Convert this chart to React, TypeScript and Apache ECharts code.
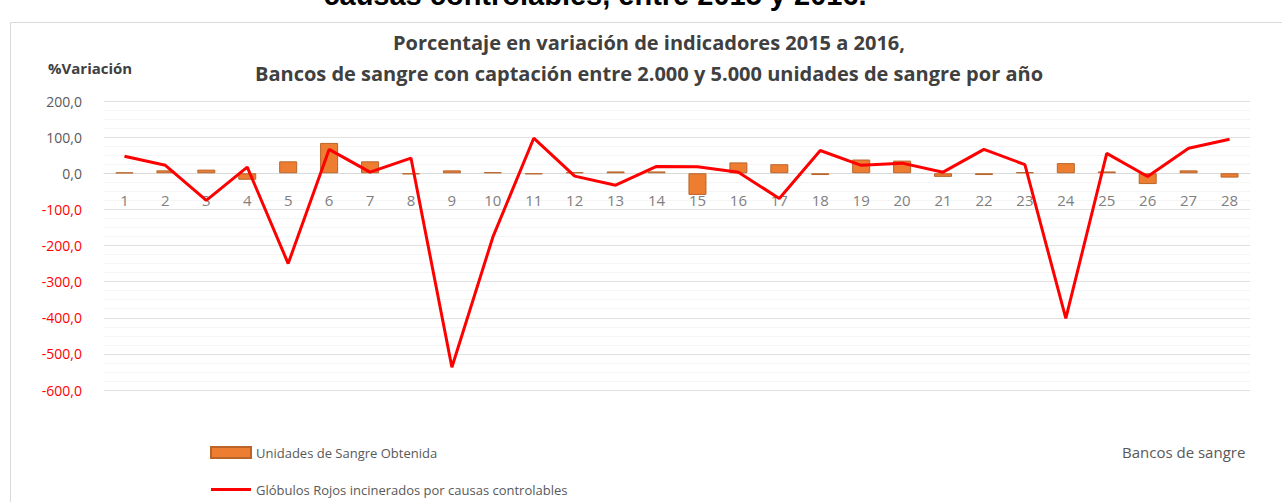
import React, { useEffect, useRef } from "react";
import * as echarts from "echarts";

const categories = ["1","2","3","4","5","6","7","8","9","10","11","12","13","14","15","16","17","18","19","20","21","22","23","24","25","26","27","28"];
const unidadesSangre = [2, 8, 10, -18, 33, 84, 33, -3, 8, 3, -3, 3, 5, 5, -60, 30, 25, -5, 38, 35, -10, -5, 3, 28, 5, -30, 8, -12];
const globulosRojos = [47, 22, -75, 17, -250, 66, 3, 42, -537, -177, 97, -8, -33, 19, 18, 3, -70, 63, 22, 28, 3, 66, 24, -402, 55, -9, 69, 94];
const seriesNames = ["Unidades de Sangre Obtenida", "Glóbulos Rojos incinerados por causas controlables"];
const titleLines = ["Porcentaje en variación de indicadores 2015 a 2016,", "Bancos de sangre con captación entre 2.000 y 5.000 unidades de sangre por año"];
const topCutText = "causas controlables, entre 2015 y 2016.";
const yAxisName = "%Variación";
const xAxisName = "Bancos de sangre";
const yMin = -600;
const yMax = 200;

const FONT = "'Open Sans', 'Noto Sans', sans-serif";

const GRID_TOP = 101;
const GRID_BOTTOM = 112;
const H = 502;

export default function App() {
  const ref = useRef<HTMLDivElement>(null);
  useEffect(() => {
    if (!ref.current) return;
    const chart = echarts.init(ref.current, null, { renderer: "svg" });
    const gridH = H - GRID_TOP - GRID_BOTTOM;
    const zeroOffset = -gridH * (0 - yMin) / (yMax - yMin);
    chart.setOption({
      animation: false,
      backgroundColor: "#ffffff",
      textStyle: { fontFamily: FONT },
      graphic: [
        {
          type: "rect",
          shape: { x: 10.5, y: 22.5, width: 1290, height: 500 },
          style: { fill: "none", stroke: "#d9d9d9", lineWidth: 1 },
          silent: true,
        },
        {
          type: "text",
          x: 595,
          y: 9,
          style: {
            text: topCutText,
            fill: "#000000",
            font: "bold 29px 'Liberation Sans', Arial, sans-serif",
            textAlign: "center",
            textVerticalAlign: "bottom",
          },
        },
        {
          type: "text",
          x: 649,
          y: 42,
          style: {
            text: titleLines[0],
            fill: "#404040",
            font: `bold 20px ${FONT}`,
            textAlign: "center",
            textVerticalAlign: "middle",
          },
        },
        {
          type: "text",
          x: 649,
          y: 73,
          style: {
            text: titleLines[1],
            fill: "#404040",
            font: `bold 20px ${FONT}`,
            textAlign: "center",
            textVerticalAlign: "middle",
          },
        },
        {
          type: "text",
          x: 48,
          y: 68,
          style: {
            text: yAxisName,
            fill: "#404040",
            font: `bold 15px ${FONT}`,
            textAlign: "left",
            textVerticalAlign: "middle",
          },
        },
        {
          type: "text",
          x: 1122,
          y: 452,
          style: {
            text: xAxisName,
            fill: "#595959",
            font: `15px ${FONT}`,
            textAlign: "left",
            textVerticalAlign: "middle",
          },
        },
      ],
      legend: {
        orient: "vertical",
        left: 205,
        top: 441,
        height: 60,
        padding: 5,
        itemWidth: 40,
        itemHeight: 11,
        itemGap: 24,
        textStyle: { color: "#595959", fontSize: 13, fontFamily: FONT },
        data: [
          { name: seriesNames[0], icon: "rect" },
          { name: seriesNames[1], icon: "path://M0,0 h40 v3 h-40 z" },
        ],
      },
      grid: { left: 104, right: 32, top: GRID_TOP, bottom: GRID_BOTTOM, containLabel: false },
      xAxis: {
        type: "category",
        data: categories,
        boundaryGap: true,
        offset: zeroOffset,
        axisLine: { onZero: false, lineStyle: { color: "#d9d9d9" } },
        axisTick: { show: false },
        axisLabel: { color: "#808080", fontSize: 15, margin: 19, fontFamily: FONT },
        splitLine: { show: false },
      },
      yAxis: {
        type: "value",
        min: yMin,
        max: yMax,
        interval: 100,
        axisLine: { show: false },
        axisTick: { show: false },
        axisLabel: {
          fontSize: 14,
          margin: 22,
          fontFamily: FONT,
          formatter: (v: number) => v.toFixed(1).replace(".", ","),
          color: (v: any) => (Number(v) < 0 ? "#ff0000" : "#595959"),
        },
        splitLine: { lineStyle: { color: "#e0e0e0", width: 1 } },
        minorTick: { show: false, splitNumber: 4 },
        minorSplitLine: { show: true, lineStyle: { color: "#f5f5f5", width: 1 } },
      },
      series: [
        {
          name: seriesNames[0],
          type: "bar",
          data: unidadesSangre,
          barWidth: 18,
          itemStyle: { color: "#ed7d31", borderColor: "#b9652a", borderWidth: 1 },
        },
        {
          name: seriesNames[1],
          type: "line",
          data: globulosRojos,
          symbol: "none",
          lineStyle: { color: "#ff0000", width: 3 },
          itemStyle: { color: "#ff0000" },
        },
      ],
    });
    return () => chart.dispose();
  }, []);
  return (
    <div
      ref={ref}
      style={{ position: "fixed", left: 0, top: 0, width: 1282, height: 502 }}
    />
  );
}
